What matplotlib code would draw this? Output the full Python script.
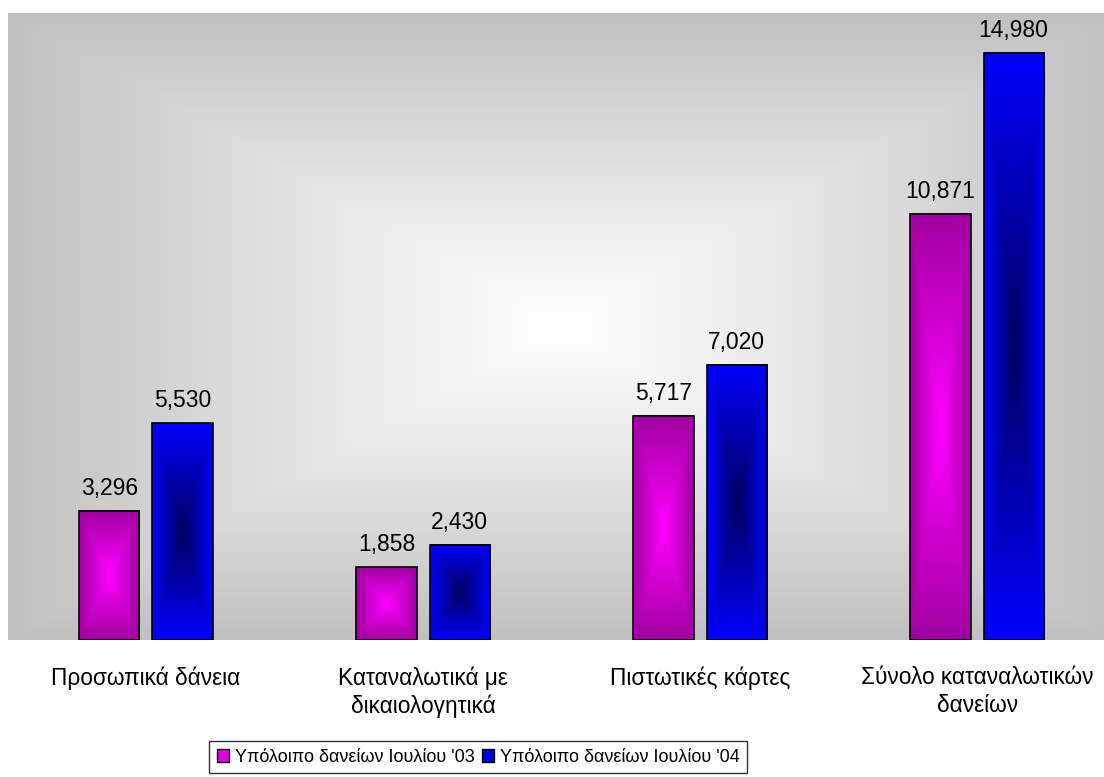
import numpy as np
import matplotlib
matplotlib.use("Agg")
import matplotlib.pyplot as plt
from matplotlib.patches import Rectangle, Patch

categories = ["Προσωπικά δάνεια", "Καταναλωτικά με\nδικαιολογητικά",
              "Πιστωτικές κάρτες", "Σύνολο καταναλωτικών\nδανείων"]
series_names = ["Υπόλοιπο δανείων Ιουλίου '03", "Υπόλοιπο δανείων Ιουλίου '04"]
jul03 = [3296, 1858, 5717, 10871]
jul04 = [5530, 2430, 7020, 14980]

plt.rcParams['font.family'] = ['Liberation Sans', 'DejaVu Sans']

W, H = 1104, 777
fig = plt.figure(figsize=(W / 100, H / 100), dpi=100)
fig.patch.set_facecolor('white')
ax = fig.add_axes([8 / W, 137 / H, 1096 / W, 627 / H])
ax.set_xlim(-0.498, 3.458)
ax.set_ylim(0, 16000)

# rectangular "from centre" background gradient
n = 500
u = np.linspace(-1, 1, n)
U, V = np.meshgrid(u, u)
t = np.maximum(np.abs(U), np.abs(V))
g = (255 - 63 * t ** 1.1) / 255.0
bg = np.dstack([g, g, g])
ax.imshow(bg, extent=(-0.5, 3.5, 0, 16000), aspect='auto', zorder=0,
          interpolation='bilinear')


def grad_img(center, edge, n=200):
    uu = np.linspace(-1, 1, n)
    UU, VV = np.meshgrid(uu, uu)
    tt = np.maximum(np.abs(UU), np.abs(VV))[..., None]
    c = np.array(center) / 255.0
    e = np.array(edge) / 255.0
    return c * (1 - tt) + e * tt


mag_img = grad_img((255, 0, 255), (160, 0, 160))
blu_img = grad_img((0, 0, 95), (0, 0, 255))

bw = 0.217
off = 0.132
x = np.arange(len(categories))
for xs, vals, img in [(x - off, jul03, mag_img), (x + off, jul04, blu_img)]:
    for xc, v in zip(xs, vals):
        ax.imshow(img, extent=(xc - bw / 2, xc + bw / 2, 0, v), aspect='auto',
                  zorder=2, interpolation='bilinear')
        ax.add_patch(Rectangle((xc - bw / 2, 0), bw, v, facecolor='none',
                               edgecolor='black', lw=1.2, zorder=3))
        ax.annotate(f"{v:,}", (xc, v), xytext=(0, 8), textcoords='offset points',
                    ha='center', va='bottom', fontsize=16.5, color='black')

ax.set_xlim(-0.498, 3.458)
ax.set_ylim(0, 16000)
ax.set_xticks(x)
ax.set_xticklabels(categories, fontsize=16.3, linespacing=1.25)
ax.tick_params(axis='x', length=0, pad=19)
ax.set_yticks([])
for s in ax.spines.values():
    s.set_visible(False)

handles = [Patch(facecolor='#E000E0', edgecolor='black', lw=1),
           Patch(facecolor='#0000E0', edgecolor='black', lw=1)]
leg = fig.legend(handles, series_names, loc='center',
                 bbox_to_anchor=(478 / W, 1 - 757 / H), ncol=2, frameon=True,
                 fancybox=False, edgecolor='black', fontsize=13,
                 handlelength=0.7, handleheight=0.7, handletextpad=0.3,
                 columnspacing=0.4, borderpad=0.4, borderaxespad=0)
leg.get_frame().set_linewidth(1.0)

fig.savefig("out.png", dpi=100, facecolor='white')
